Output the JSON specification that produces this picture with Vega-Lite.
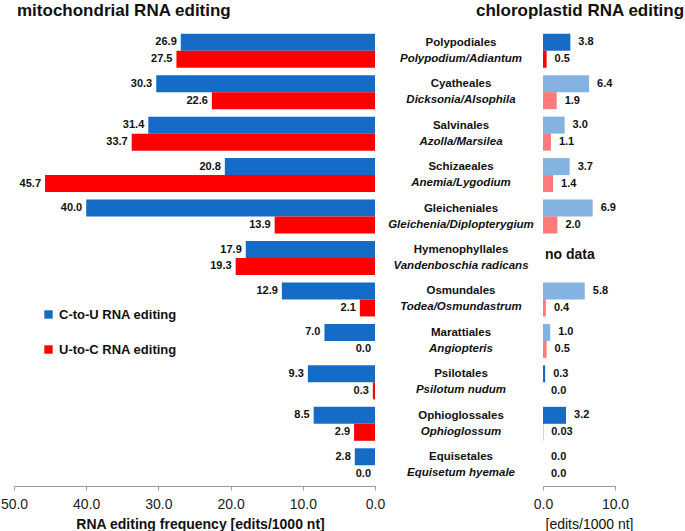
{
  "$schema": "https://vega.github.io/schema/vega-lite/v6.json",
  "padding": {"left": 0, "top": 2, "right": 0, "bottom": 0},
  "bounds": "flush",
  "spacing": 0,
  "config": {
    "font": "Liberation Sans",
    "view": {"stroke": null},
    "axis": {
      "domainColor": "#9a9a9a",
      "tickColor": "#9a9a9a",
      "tickSize": 4,
      "labelFontSize": 14,
      "labelColor": "#222222",
      "labelPadding": 7,
      "labelFlush": false,
      "titleFontSize": 14,
      "titleFontWeight": "bold",
      "titleColor": "#111111",
      "titlePadding": 6,
      "grid": false
    },
    "title": {"fontSize": 17, "fontWeight": "bold", "color": "#111111", "anchor": "start", "frame": "group"}
  },
  "datasets": {
    "mito": [
      {"order": "Polypodiales", "type": "C-to-U RNA editing", "value": 26.9},
      {"order": "Polypodiales", "type": "U-to-C RNA editing", "value": 27.5},
      {"order": "Cyatheales", "type": "C-to-U RNA editing", "value": 30.3},
      {"order": "Cyatheales", "type": "U-to-C RNA editing", "value": 22.6},
      {"order": "Salvinales", "type": "C-to-U RNA editing", "value": 31.4},
      {"order": "Salvinales", "type": "U-to-C RNA editing", "value": 33.7},
      {"order": "Schizaeales", "type": "C-to-U RNA editing", "value": 20.8},
      {"order": "Schizaeales", "type": "U-to-C RNA editing", "value": 45.7},
      {"order": "Gleicheniales", "type": "C-to-U RNA editing", "value": 40.0},
      {"order": "Gleicheniales", "type": "U-to-C RNA editing", "value": 13.9},
      {"order": "Hymenophyllales", "type": "C-to-U RNA editing", "value": 17.9},
      {"order": "Hymenophyllales", "type": "U-to-C RNA editing", "value": 19.3},
      {"order": "Osmundales", "type": "C-to-U RNA editing", "value": 12.9},
      {"order": "Osmundales", "type": "U-to-C RNA editing", "value": 2.1},
      {"order": "Marattiales", "type": "C-to-U RNA editing", "value": 7.0},
      {"order": "Marattiales", "type": "U-to-C RNA editing", "value": 0.0},
      {"order": "Psilotales", "type": "C-to-U RNA editing", "value": 9.3},
      {"order": "Psilotales", "type": "U-to-C RNA editing", "value": 0.3},
      {"order": "Ophioglossales", "type": "C-to-U RNA editing", "value": 8.5},
      {"order": "Ophioglossales", "type": "U-to-C RNA editing", "value": 2.9},
      {"order": "Equisetales", "type": "C-to-U RNA editing", "value": 2.8},
      {"order": "Equisetales", "type": "U-to-C RNA editing", "value": 0.0}
    ],
    "cp": [
      {"order": "Polypodiales", "type": "C-to-U RNA editing", "value": 3.8, "label": "3.8", "dataset": "A"},
      {"order": "Polypodiales", "type": "U-to-C RNA editing", "value": 0.5, "label": "0.5", "dataset": "A"},
      {"order": "Cyatheales", "type": "C-to-U RNA editing", "value": 6.4, "label": "6.4", "dataset": "B"},
      {"order": "Cyatheales", "type": "U-to-C RNA editing", "value": 1.9, "label": "1.9", "dataset": "B"},
      {"order": "Salvinales", "type": "C-to-U RNA editing", "value": 3.0, "label": "3.0", "dataset": "B"},
      {"order": "Salvinales", "type": "U-to-C RNA editing", "value": 1.1, "label": "1.1", "dataset": "B"},
      {"order": "Schizaeales", "type": "C-to-U RNA editing", "value": 3.7, "label": "3.7", "dataset": "B"},
      {"order": "Schizaeales", "type": "U-to-C RNA editing", "value": 1.4, "label": "1.4", "dataset": "B"},
      {"order": "Gleicheniales", "type": "C-to-U RNA editing", "value": 6.9, "label": "6.9", "dataset": "B"},
      {"order": "Gleicheniales", "type": "U-to-C RNA editing", "value": 2.0, "label": "2.0", "dataset": "B"},
      {"order": "Osmundales", "type": "C-to-U RNA editing", "value": 5.8, "label": "5.8", "dataset": "B"},
      {"order": "Osmundales", "type": "U-to-C RNA editing", "value": 0.4, "label": "0.4", "dataset": "B"},
      {"order": "Marattiales", "type": "C-to-U RNA editing", "value": 1.0, "label": "1.0", "dataset": "B"},
      {"order": "Marattiales", "type": "U-to-C RNA editing", "value": 0.5, "label": "0.5", "dataset": "B"},
      {"order": "Psilotales", "type": "C-to-U RNA editing", "value": 0.3, "label": "0.3", "dataset": "A"},
      {"order": "Psilotales", "type": "U-to-C RNA editing", "value": 0.0, "label": "0.0", "dataset": "A"},
      {"order": "Ophioglossales", "type": "C-to-U RNA editing", "value": 3.2, "label": "3.2", "dataset": "A"},
      {"order": "Ophioglossales", "type": "U-to-C RNA editing", "value": 0.03, "label": "0.03", "dataset": "A"},
      {"order": "Equisetales", "type": "C-to-U RNA editing", "value": 0.0, "label": "0.0", "dataset": "A"},
      {"order": "Equisetales", "type": "U-to-C RNA editing", "value": 0.0, "label": "0.0", "dataset": "A"}
    ],
    "taxa": [
      {"order": "Polypodiales", "genus": "Polypodium/Adiantum"},
      {"order": "Cyatheales", "genus": "Dicksonia/Alsophila"},
      {"order": "Salvinales", "genus": "Azolla/Marsilea"},
      {"order": "Schizaeales", "genus": "Anemia/Lygodium"},
      {"order": "Gleicheniales", "genus": "Gleichenia/Diplopterygium"},
      {"order": "Hymenophyllales", "genus": "Vandenboschia radicans"},
      {"order": "Osmundales", "genus": "Todea/Osmundastrum"},
      {"order": "Marattiales", "genus": "Angiopteris"},
      {"order": "Psilotales", "genus": "Psilotum nudum"},
      {"order": "Ophioglossales", "genus": "Ophioglossum"},
      {"order": "Equisetales", "genus": "Equisetum hyemale"}
    ],
    "nodata": [
      {"order": "Hymenophyllales", "note": "no data"}
    ]
  },
  "hconcat": [
    {
      "width": 361,
      "height": 456,
      "title": {"text": "mitochondrial RNA editing", "dx": 3, "offset": 10},
      "data": {"name": "mito"},
      "encoding": {
        "y": {"field": "order", "type": "nominal", "axis": null,
          "scale": {"domain": ["Polypodiales","Cyatheales","Salvinales","Schizaeales","Gleicheniales","Hymenophyllales","Osmundales","Marattiales","Psilotales","Ophioglossales","Equisetales"], "paddingInner": 0.18, "paddingOuter": 0.09}},
        "yOffset": {"field": "type", "type": "nominal", "scale": {"domain": ["C-to-U RNA editing", "U-to-C RNA editing"], "paddingInner": 0, "paddingOuter": 0}},
        "x": {"field": "value", "type": "quantitative",
          "scale": {"domain": [0, 50], "reverse": true, "nice": false},
          "axis": {"values": [0, 10, 20, 30, 40, 50], "format": ".1f", "title": "RNA editing frequency [edits/1000 nt]", "titleX": 186}}
      },
      "layer": [
        {
          "mark": {"type": "bar"},
          "encoding": {
            "color": {"field": "type", "type": "nominal",
              "scale": {"domain": ["C-to-U RNA editing", "U-to-C RNA editing"], "range": ["#146cc6", "#ff0000"]},
              "legend": {"title": null, "orient": "none", "legendX": 28, "legendY": 278, "symbolType": "square", "symbolSize": 70, "symbolStrokeWidth": 0, "labelFontSize": 13, "labelFontWeight": "bold", "labelColor": "#111111", "rowPadding": 21, "labelOffset": 4, "padding": 0}}
          }
        },
        {
          "mark": {"type": "text", "align": "right", "baseline": "middle", "dx": -4, "fontSize": 11, "fontWeight": "bold", "color": "#111111"},
          "encoding": {"text": {"field": "value", "type": "quantitative", "format": ".1f"}}
        }
      ]
    },
    {
      "width": 168,
      "height": 456,
      "data": {"name": "taxa"},
      "encoding": {
        "y": {"field": "order", "type": "nominal", "axis": null,
          "scale": {"domain": ["Polypodiales","Cyatheales","Salvinales","Schizaeales","Gleicheniales","Hymenophyllales","Osmundales","Marattiales","Psilotales","Ophioglossales","Equisetales"], "paddingInner": 0.18, "paddingOuter": 0.09}}
      },
      "layer": [
        {
          "mark": {"type": "text", "align": "center", "baseline": "middle", "dx": 2, "dy": -8, "fontSize": 11.5, "fontWeight": "bold", "color": "#111111"},
          "encoding": {"text": {"field": "order"}}
        },
        {
          "mark": {"type": "text", "align": "center", "baseline": "middle", "dx": 2, "dy": 8, "fontSize": 11.5, "fontWeight": "bold", "fontStyle": "italic", "color": "#111111"},
          "encoding": {"text": {"field": "genus"}}
        }
      ]
    },
    {
      "width": 72,
      "height": 456,
      "title": {"text": "chloroplastid RNA editing", "dx": -67, "offset": 10},
      "encoding": {
        "y": {"field": "order", "type": "nominal", "axis": null,
          "scale": {"domain": ["Polypodiales","Cyatheales","Salvinales","Schizaeales","Gleicheniales","Hymenophyllales","Osmundales","Marattiales","Psilotales","Ophioglossales","Equisetales"], "paddingInner": 0.18, "paddingOuter": 0.09}}
      },
      "layer": [
        {
          "data": {"name": "cp"},
          "mark": {"type": "bar"},
          "encoding": {
            "yOffset": {"field": "type", "type": "nominal", "scale": {"domain": ["C-to-U RNA editing", "U-to-C RNA editing"], "paddingInner": 0, "paddingOuter": 0}},
            "x": {"field": "value", "type": "quantitative",
              "scale": {"domain": [0, 10], "nice": false},
              "axis": {"values": [0, 5, 10], "format": ".1f", "title": "[edits/1000 nt]", "titleFontWeight": "normal", "titleX": 46}},
            "color": {"field": "type", "type": "nominal",
              "scale": {"domain": ["C-to-U RNA editing", "U-to-C RNA editing"], "range": ["#146cc6", "#ff0000"]}},
            "opacity": {"field": "dataset", "type": "nominal", "scale": {"domain": ["A", "B"], "range": [1, 0.52]}, "legend": null}
          }
        },
        {
          "data": {"name": "cp"},
          "mark": {"type": "text", "align": "left", "baseline": "middle", "dx": 8, "fontSize": 11, "fontWeight": "bold", "color": "#111111"},
          "encoding": {
            "yOffset": {"field": "type", "type": "nominal", "scale": {"domain": ["C-to-U RNA editing", "U-to-C RNA editing"], "paddingInner": 0, "paddingOuter": 0}},
            "x": {"field": "value", "type": "quantitative"},
            "text": {"field": "label"}
          }
        },
        {
          "data": {"name": "nodata"},
          "mark": {"type": "text", "align": "left", "baseline": "middle", "dx": 2, "dy": -3, "fontSize": 14, "fontWeight": "bold", "color": "#111111"},
          "encoding": {
            "x": {"datum": 0, "type": "quantitative"},
            "text": {"field": "note"}
          }
        }
      ]
    }
  ]
}
